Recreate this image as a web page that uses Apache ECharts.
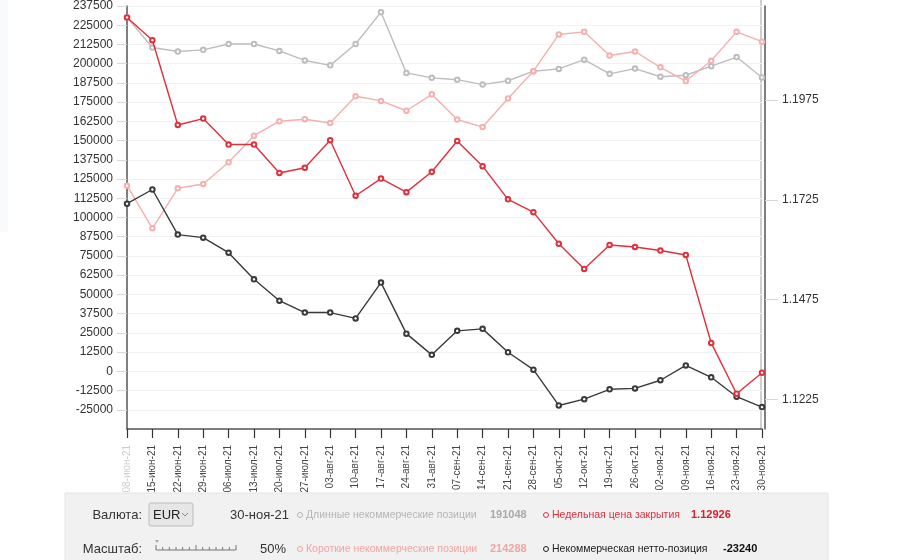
<!DOCTYPE html>
<html>
<head>
<meta charset="utf-8">
<script src="https://cdn.jsdelivr.net/npm/echarts@6/dist/echarts.min.js"></script>
<style>
html,body{margin:0;padding:0;background:#fff;}
#chart{width:900px;height:560px;}
</style>
</head>
<body>
<div id="chart"></div>
<script>
const categories = ['08-июн-21','15-июн-21','22-июн-21','29-июн-21','06-июл-21','13-июл-21','20-июл-21','27-июл-21','03-авг-21','10-авг-21','17-авг-21','24-авг-21','31-авг-21','07-сен-21','14-сен-21','21-сен-21','28-сен-21','05-окт-21','12-окт-21','19-окт-21','26-окт-21','02-ноя-21','09-ноя-21','16-ноя-21','23-ноя-21','30-ноя-21'];
const longPositions = [230100, 210500, 207900, 209000, 212800, 212800, 208300, 202100, 198900, 212800, 233500, 194000, 190800, 189600, 186400, 188900, 195100, 196600, 202600, 193400, 196800, 191500, 192500, 198400, 204300, 191048];
const shortPositions = [120700, 92950, 119000, 121800, 135900, 153200, 162600, 163900, 161400, 178800, 175800, 169400, 180100, 163700, 158800, 177400, 195100, 219000, 220700, 205300, 207900, 197600, 188700, 201900, 220700, 214288];
const netPositions = [108980, 118200, 88900, 86900, 77100, 59800, 45900, 38200, 38200, 34400, 57700, 24500, 10700, 26300, 27600, 12400, 1100, -22200, -18100, -11700, -11100, -5800, 3800, -3900, -16500, -23240];
const closePrices = [1.2181, 1.2124, 1.1912, 1.1928, 1.1863, 1.1863, 1.1792, 1.1805, 1.1874, 1.1735, 1.1778, 1.1744, 1.1795, 1.1872, 1.1809, 1.1726, 1.1694, 1.1615, 1.1552, 1.1612, 1.1607, 1.1598, 1.1587, 1.1367, 1.1240, 1.12926];
const priceTicks = [1.1225, 1.1475, 1.1725, 1.1975];
const lastDate = '30-ноя-21';

const FONT = '"Liberation Sans", Arial, sans-serif';
const cGrey = '#bdbdbd', cPink = '#f4b0b0', cRed = '#e0303c', cBlack = '#3a3a3a';

function lineSeries(name, data, color, yIdx, z) {
  return {
    name, type: 'line', data, yAxisIndex: yIdx, z,
    symbol: 'emptyCircle', symbolSize: 4.5, showSymbol: true, showAllSymbol: true,
    lineStyle: { color, width: 1.4 },
    itemStyle: { color, borderWidth: 1 },
    animation: false
  };
}

const graphics = [];
graphics.push({ type: 'rect', shape: { x: 0, y: 0, width: 8, height: 232 }, style: { fill: '#f8fafb' }, silent: true });
graphics.push({ type: 'line', shape: { x1: 761, y1: 0, x2: 761, y2: 429 }, style: { stroke: '#cfcfcf', lineWidth: 2 }, silent: true });
graphics.push({ type: 'rect', shape: { x: 65, y: 493, width: 763, height: 70 }, style: { fill: '#f1f1f1', stroke: '#e4e4e4' }, silent: true });
graphics.push({ type: 'text', style: { text: 'Валюта:', x: 142, y: 515, align: 'right', verticalAlign: 'middle', font: '13px ' + FONT, fill: '#333' } });
graphics.push({ type: 'rect', shape: { x: 149, y: 503, width: 44, height: 23, r: 2 }, style: { fill: '#e6e6e6', stroke: '#bdbdbd' } });
graphics.push({ type: 'text', style: { text: 'EUR', x: 153, y: 515, verticalAlign: 'middle', font: '13px ' + FONT, fill: '#222' } });
graphics.push({ type: 'polyline', shape: { points: [[182, 513], [185, 516], [188, 513]] }, style: { stroke: '#888', lineWidth: 1, fill: null } });
graphics.push({ type: 'text', style: { text: lastDate, x: 230, y: 515, verticalAlign: 'middle', font: '13px ' + FONT, fill: '#333' } });
graphics.push({ type: 'text', style: { text: 'Масштаб:', x: 142, y: 549, align: 'right', verticalAlign: 'middle', font: '13px ' + FONT, fill: '#333' } });
graphics.push({ type: 'polyline', shape: { points: [[156, 550], [236, 550]] }, style: { stroke: '#777', lineWidth: 1, fill: null } });
for (let i = 0; i <= 12; i++) {
  const x = 156 + i * 80 / 12;
  const len = (i === 0 || i === 6 || i === 12) ? 5 : 3;
  graphics.push({ type: 'line', shape: { x1: x, y1: 550, x2: x, y2: 550 - len }, style: { stroke: '#777', lineWidth: 1 } });
}
graphics.push({ type: 'polygon', shape: { points: [[155, 540], [159, 540], [157, 543]] }, style: { fill: '#aaa' } });
graphics.push({ type: 'text', style: { text: '50%', x: 260, y: 549, verticalAlign: 'middle', font: '13px ' + FONT, fill: '#333' } });

function legendItem(x, y, label, value, color, valueColor, vx) {
  graphics.push({ type: 'circle', shape: { cx: x, cy: y, r: 2.5 }, style: { fill: 'none', stroke: color, lineWidth: 1 } });
  graphics.push({ type: 'text', style: { text: label, x: x + 6, y, verticalAlign: 'middle', font: '10.5px ' + FONT, fill: color } });
  graphics.push({ type: 'text', style: { text: value, x: vx, y, verticalAlign: 'middle', font: 'bold 11px ' + FONT, fill: valueColor } });
}
legendItem(300, 515, 'Длинные некоммерческие позиции', String(longPositions[longPositions.length - 1]), '#b5b5b5', '#aaaaaa', 490);
legendItem(300, 549, 'Короткие некоммерческие позиции', String(shortPositions[shortPositions.length - 1]), '#f2a3a3', '#f2a3a3', 490);
legendItem(546, 515, 'Недельная цена закрытия', closePrices[closePrices.length - 1].toFixed(5), '#e0303c', '#d42030', 691);
legendItem(546, 549, 'Некоммерческая нетто-позиция', String(netPositions[netPositions.length - 1]), '#222', '#111', 723);

const chart = echarts.init(document.getElementById('chart'), null, { renderer: 'canvas' });
chart.setOption({
  animation: false,
  backgroundColor: '#fff',
  grid: { left: 127, right: 138, top: 0, bottom: 131, containLabel: false },
  xAxis: {
    type: 'category', data: categories, boundaryGap: false,
    axisLine: { show: true, onZero: false, lineStyle: { color: '#555', width: 1.5 } },
    axisTick: { show: true, length: 9, lineStyle: { color: '#333', width: 1.2 }, interval: 0 },
    axisLabel: {
      rotate: 90, interval: 0, margin: 16, fontSize: 10, fontFamily: FONT,
      color: function (v, i) { return i === 0 ? '#cccccc' : '#444'; }
    },
    splitLine: { show: false }
  },
  yAxis: [
    {
      type: 'value', min: -37500, max: 237500, interval: 12500, position: 'left',
      axisLine: { show: true, lineStyle: { color: '#555', width: 1.5 } },
      axisTick: { show: true, length: 10, lineStyle: { color: '#d8d8d8' } },
      axisLabel: { showMinLabel: false, margin: 14, fontSize: 12, fontFamily: FONT, color: '#333',
        formatter: function (v) { return String(v); } },
      splitLine: { show: true, lineStyle: { color: '#f2f2f2', width: 1 } }
    },
    {
      type: 'value', min: 1.11518, max: 1.22095, position: 'right', offset: 3,
      axisLine: { show: true, lineStyle: { color: '#555', width: 1.5 } },
      axisTick: { show: true, length: 13, customValues: priceTicks, lineStyle: { color: '#d8d8d8' } },
      axisLabel: { customValues: priceTicks, margin: 17, fontSize: 12, fontFamily: FONT, color: '#333',
        formatter: function (v) { return v.toFixed(4); } },
      splitLine: { show: false }
    }
  ],
  series: [
    lineSeries('Длинные некоммерческие позиции', longPositions, cGrey, 0, 2),
    lineSeries('Короткие некоммерческие позиции', shortPositions, cPink, 0, 3),
    lineSeries('Некоммерческая нетто-позиция', netPositions, cBlack, 0, 4),
    lineSeries('Недельная цена закрытия', closePrices, cRed, 1, 5)
  ],
  graphic: graphics
});
</script>
</body>
</html>
